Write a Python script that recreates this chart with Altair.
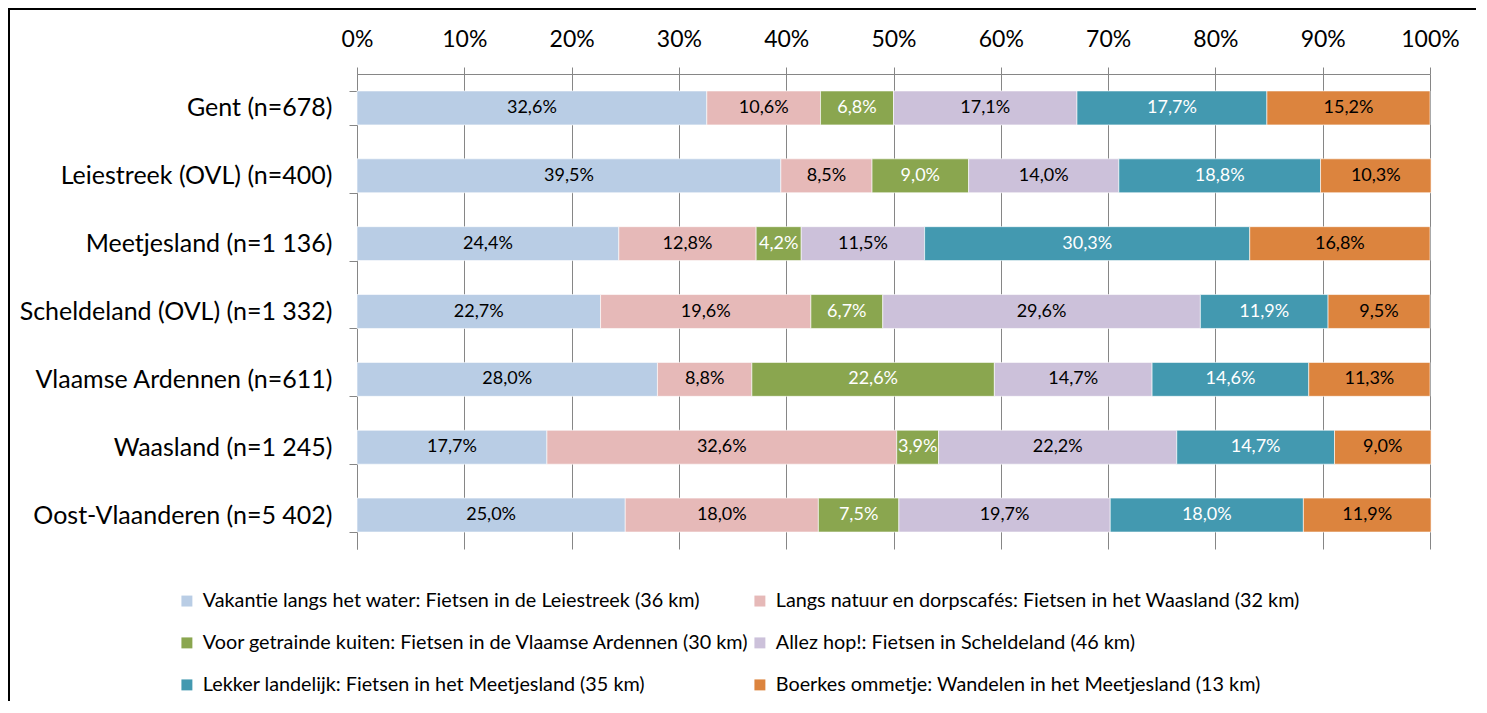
import altair as alt
import pandas as pd

regions = [
    "Gent (n=678)",
    "Leiestreek (OVL) (n=400)",
    "Meetjesland (n=1 136)",
    "Scheldeland (OVL) (n=1 332)",
    "Vlaamse Ardennen (n=611)",
    "Waasland (n=1 245)",
    "Oost-Vlaanderen (n=5 402)",
]
series = [
    "Vakantie langs het water: Fietsen in de Leiestreek (36 km)",
    "Langs natuur en dorpscafés: Fietsen in het Waasland (32 km)",
    "Voor getrainde kuiten: Fietsen in de Vlaamse Ardennen (30 km)",
    "Allez hop!: Fietsen in Scheldeland (46 km)",
    "Lekker landelijk: Fietsen in het Meetjesland (35 km)",
    "Boerkes ommetje: Wandelen in het Meetjesland (13 km)",
]
colors = ["#B9CDE5", "#E6B9B8", "#8AA64F", "#CCC1DA", "#4399B0", "#DC843E"]
label_colors = ["black", "black", "white", "black", "white", "black"]

vals_gent = [32.6, 10.6, 6.8, 17.1, 17.7, 15.2]
vals_leie = [39.5, 8.5, 9.0, 14.0, 18.8, 10.3]
vals_meet = [24.4, 12.8, 4.2, 11.5, 30.3, 16.8]
vals_schel = [22.7, 19.6, 6.7, 29.6, 11.9, 9.5]
vals_ard = [28.0, 8.8, 22.6, 14.7, 14.6, 11.3]
vals_waas = [17.7, 32.6, 3.9, 22.2, 14.7, 9.0]
vals_ovl = [25.0, 18.0, 7.5, 19.7, 18.0, 11.9]
all_vals = [vals_gent, vals_leie, vals_meet, vals_schel, vals_ard, vals_waas, vals_ovl]

rows = []
for r, vals in zip(regions, all_vals):
    for i, (s, v) in enumerate(zip(series, vals)):
        rows.append({"region": r, "series": s, "order": i, "value": v, "tc": label_colors[i]})
df = pd.DataFrame(rows)

# legend is filled column by column: reorder so it reads row by row like the original
legend_idx = [0, 2, 4, 1, 3, 5]
legend_domain = [series[i] for i in legend_idx]
legend_range = [colors[i] for i in legend_idx]

FONT = "Lato"
GRID = "#868686"

base = (
    alt.Chart(df)
    .transform_stack(stack="value", groupby=["region"], as_=["x0", "x1"],
                     sort=[alt.SortField("order", order="ascending")])
    .transform_calculate(
        mid="(datum.x0 + datum.x1) / 2",
        label="replace(format(datum.value, '.1f'), '.', ',') + '%'",
    )
)

yenc = alt.Y(
    "region:N",
    sort=regions,
    scale=alt.Scale(paddingInner=0.5, paddingOuter=0.25),
    axis=alt.Axis(
        title=None, orient="left", domainColor=GRID, tickColor=GRID, tickSize=8,
        tickBand="extent", labelFontSize=25, labelColor="black", labelFont=FONT,
        labelPadding=17, labelLimit=400,
    ),
)

bars = base.mark_bar(stroke="white", strokeWidth=0.6).encode(
    y=yenc,
    x=alt.X(
        "x0:Q",
        scale=alt.Scale(domain=[0, 100], nice=False),
        axis=alt.Axis(
            title=None, orient="top", values=list(range(0, 101, 10)),
            labelExpr="datum.value + '%'", grid=True, gridColor=GRID, gridOpacity=1,
            domainColor=GRID, tickColor=GRID, tickSize=7, labelFontSize=23,
            labelColor="black", labelFont=FONT, labelPadding=16, labelFlush=False,
        ),
    ),
    x2="x1:Q",
    color=alt.Color(
        "series:N",
        scale=alt.Scale(domain=legend_domain, range=legend_range),
        legend=alt.Legend(
            title=None, orient="none", legendX=-180, legendY=517, columns=2,
            symbolType="square", symbolSize=120, symbolStrokeWidth=0,
            labelFontSize=19.8, labelFont=FONT, labelColor="black", labelLimit=700,
            rowPadding=21, columnPadding=-3, labelOffset=6,
        ),
    ),
    order=alt.Order("order:Q"),
)

text = base.mark_text(fontSize=18, font=FONT).encode(
    y=alt.Y("region:N", sort=regions),
    x=alt.X("mid:Q"),
    text="label:N",
    color=alt.Color("tc:N", scale=None),
)

border = alt.Chart(pd.DataFrame({"a": [0]})).mark_rect(
    fill="transparent", stroke="black", strokeWidth=2
).encode(
    x=alt.value(-348), x2=alt.value(1300), y=alt.value(-65), y2=alt.value(800)
)

chart = (
    alt.layer(bars, text, border)
    .properties(
        width=1073, height=475,
        autosize=alt.AutoSizeParams(type="none"),
        padding={"left": 349, "top": 66, "right": 46, "bottom": 152},
    )
    .configure_view(strokeWidth=0)
)

chart.save("out.html", embed_options={"renderer": "svg", "actions": False})
